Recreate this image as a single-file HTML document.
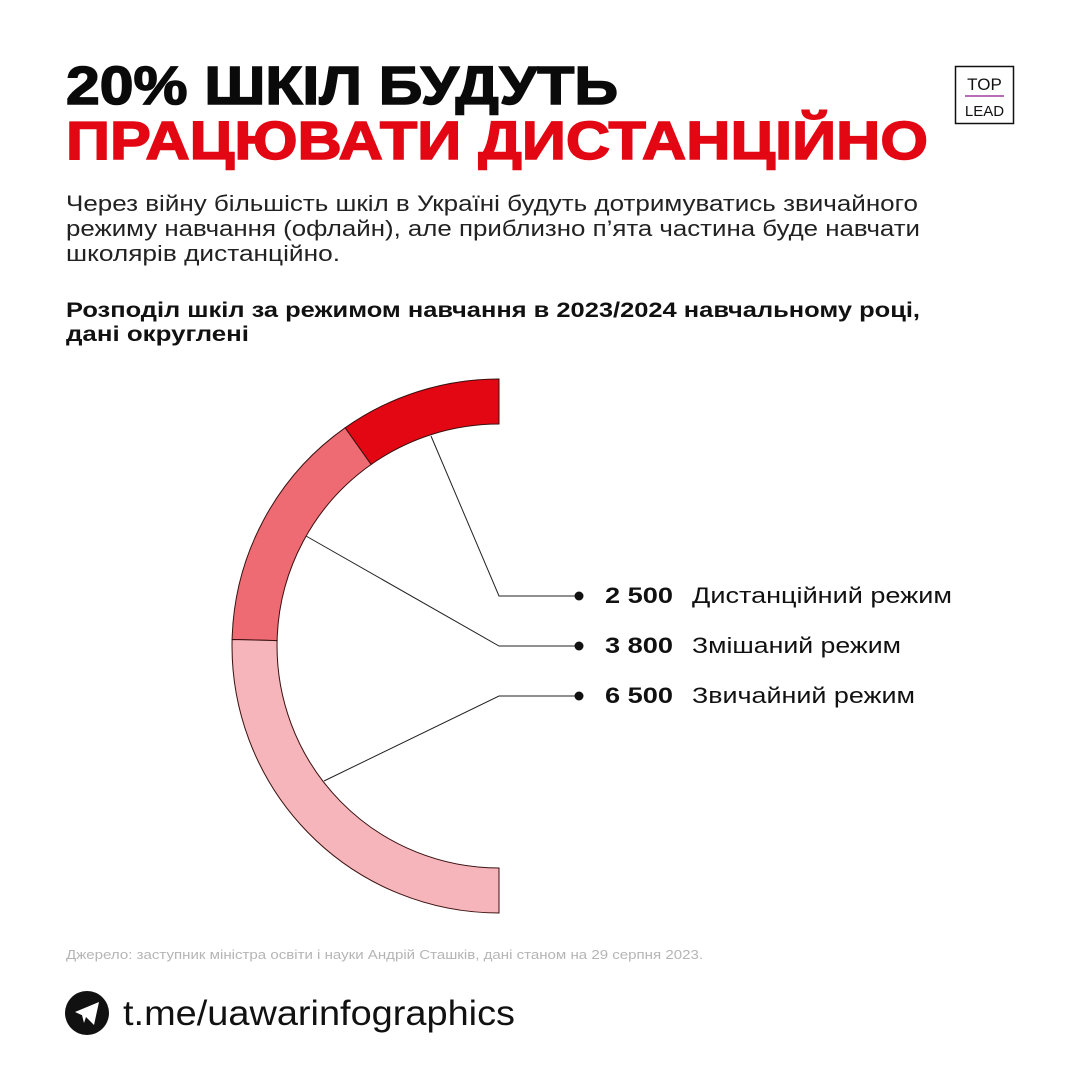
<!DOCTYPE html>
<html><head><meta charset="utf-8"><style>
html,body{margin:0;padding:0;background:#fff}
svg{display:block}
text{font-family:"Liberation Sans",sans-serif}
</style></head><body>
<svg width="1080" height="1080" viewBox="0 0 1080 1080">
<rect width="1080" height="1080" fill="#fff"/>
<text x="66" y="104" font-size="54" font-weight="900" fill="#0a0a0a" textLength="552" lengthAdjust="spacingAndGlyphs" stroke="#0a0a0a" stroke-width="1.5">20% ШКІЛ БУДУТЬ</text>
<text x="66" y="159" font-size="54" font-weight="900" fill="#e30613" textLength="862" lengthAdjust="spacingAndGlyphs" stroke="#e30613" stroke-width="1.5">ПРАЦЮВАТИ ДИСТАНЦІЙНО</text>
<rect x="955.5" y="66.5" width="58" height="57" fill="none" stroke="#111" stroke-width="1.5"/>
<text x="984.5" y="90" font-size="17" text-anchor="middle" fill="#111">TOP</text>
<line x1="965" y1="96" x2="1004" y2="96" stroke="#a03c9e" stroke-width="1.5"/>
<text x="984.5" y="116" font-size="15" text-anchor="middle" fill="#111">LEAD</text>
<g font-size="22" fill="#222">
<text x="66" y="211" textLength="852" lengthAdjust="spacingAndGlyphs">Через війну більшість шкіл в Україні будуть дотримуватись звичайного</text>
<text x="66" y="236" textLength="854" lengthAdjust="spacingAndGlyphs">режиму навчання (офлайн), але приблизно п’ята частина буде навчати</text>
<text x="66" y="261" textLength="274" lengthAdjust="spacingAndGlyphs">школярів дистанційно.</text>
</g>
<g font-size="21" font-weight="bold" fill="#111">
<text x="66" y="317" textLength="854" lengthAdjust="spacingAndGlyphs">Розподіл шкіл за режимом навчання в 2023/2024 навчальному році,</text>
<text x="66" y="341" textLength="183" lengthAdjust="spacingAndGlyphs">дані округлені</text>
</g>
<!-- donut: center 499,646 R 267 r 222 -->
<g stroke="#3a1010" stroke-width="1">
<path d="M499,379 A267,267 0 0 0 345.1,427.8 L371.1,464.5 A222,222 0 0 1 499,424 Z" fill="#e30613"/>
<path d="M345.1,427.8 A267,267 0 0 0 232.1,639.5 L277.1,640.6 A222,222 0 0 1 371.1,464.5 Z" fill="#ee6b73"/>
<path d="M232.1,639.5 A267,267 0 0 0 499,913 L499,868 A222,222 0 0 1 277.1,640.6 Z" fill="#f6b5ba"/>
</g>
<g fill="none" stroke="#222" stroke-width="1">
<polyline points="431,436 499,596 578,596"/>
<polyline points="306,536 499,646 578,646"/>
<polyline points="324,781 499,696 578,696"/>
</g>
<g fill="#111"><circle cx="579" cy="596" r="4.5"/><circle cx="579" cy="646" r="4.5"/><circle cx="579" cy="696" r="4.5"/></g>
<g font-size="22" fill="#111">
<text x="605" y="603" font-weight="bold" textLength="68" lengthAdjust="spacingAndGlyphs">2 500</text>
<text x="692" y="603" textLength="260" lengthAdjust="spacingAndGlyphs">Дистанційний режим</text>
<text x="605" y="653" font-weight="bold" textLength="68" lengthAdjust="spacingAndGlyphs">3 800</text>
<text x="692" y="653" textLength="209" lengthAdjust="spacingAndGlyphs">Змішаний режим</text>
<text x="605" y="703" font-weight="bold" textLength="68" lengthAdjust="spacingAndGlyphs">6 500</text>
<text x="692" y="703" textLength="223" lengthAdjust="spacingAndGlyphs">Звичайний режим</text>
</g>
<text x="66" y="959" font-size="13" fill="#b5b5b5" textLength="637" lengthAdjust="spacingAndGlyphs">Джерело: заступник міністра освіти і науки Андрій Сташків, дані станом на 29 серпня 2023.</text>
<circle cx="87" cy="1013" r="22" fill="#111"/>
<path d="M75,1012 L99,1002 L94,1025 L86,1017 Z M86,1017 L84,1023 L82,1015" fill="#fff"/>
<text x="123" y="1025" font-size="35" fill="#111" textLength="392" lengthAdjust="spacingAndGlyphs">t.me/uawarinfographics</text>
</svg>
</body></html>
